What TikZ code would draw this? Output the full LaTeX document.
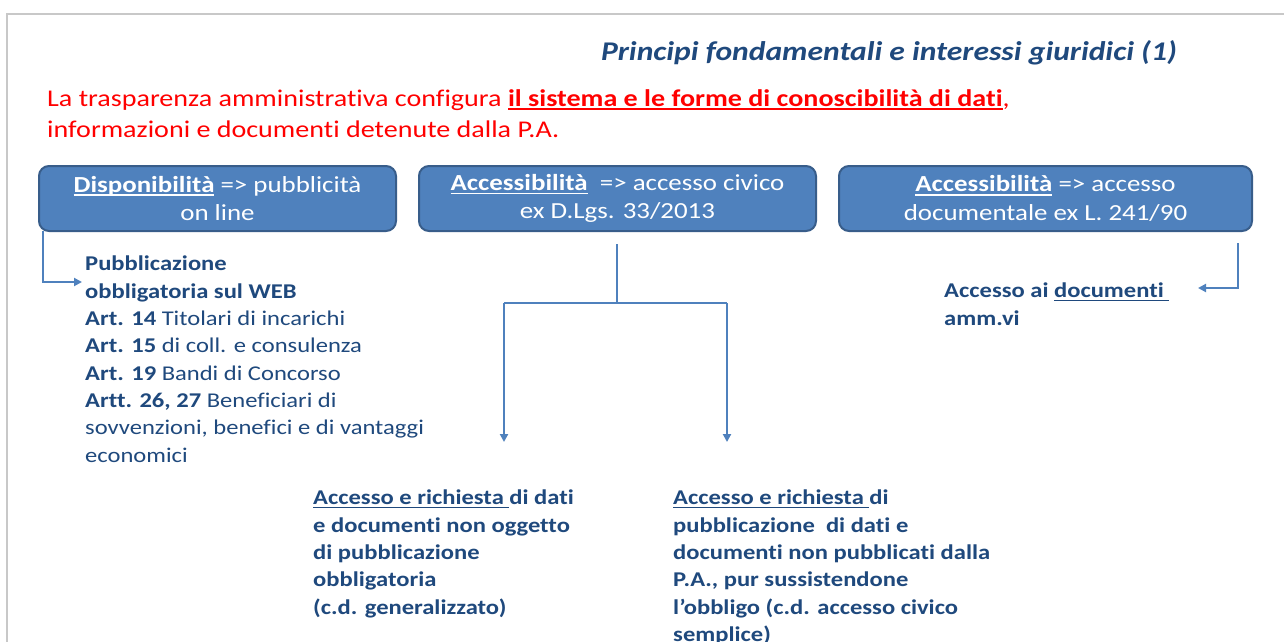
\documentclass[tikz,border=0pt]{standalone}
\usepackage{fontspec}
\setmainfont{Carlito}[FakeStretch=1.17, Ligatures=NoCommon]
\usetikzlibrary{arrows.meta}
\definecolor{boxblue}{HTML}{4F81BD}
\definecolor{boxedge}{HTML}{385D8A}
\definecolor{txtblue}{HTML}{1F497D}
\definecolor{redtxt}{HTML}{FF0000}
\definecolor{framegray}{HTML}{C8C8C8}
\newcommand\ulx[1]{\setbox0\hbox{#1}\rlap{\rule[-0.16em]{\wd0}{0.065em}}\box0\relax}
\tikzset{
  topbox/.style={draw=boxedge, line width=2pt, fill=boxblue, rounded corners=10pt},
  boxtext/.style={text=white, align=center, font=\fontsize{23}{28.5}\selectfont, inner sep=0pt},
  bodytext/.style={text=txtblue, align=left, anchor=north west, inner sep=0pt, font=\fontsize{21}{27.3}\selectfont},
  conn/.style={draw=boxblue, line width=2pt},
  arr/.style={conn, -{Triangle[length=8pt,width=8pt]}},
}
\begin{document}
\begin{tikzpicture}[x=1pt,y=-1pt]
\useasboundingbox (0,0) rectangle (1284,642);
\fill[white] (0,0) rectangle (1284,642);
\draw[framegray, line width=1.2pt] (7,642) -- (7,14) -- (1284,14);
% title
\node[anchor=base east, inner sep=0pt, text=txtblue, font=\fontsize{27}{31}\selectfont\itshape\bfseries] (title) at (1177,60) {Principi fondamentali e interessi giuridici (1)};
% red text
\node[anchor=north west, inner sep=0pt, text=redtxt, align=left, font=\fontsize{24}{31}\selectfont] (intro) at (47,89)
  {La trasparenza amministrativa configura \ulx{\bfseries il sistema e le forme di conoscibilità di dati},\\informazioni e documenti detenute dalla P.A.};
% boxes
\draw[topbox] (39,166) rectangle (396,231);
\node[boxtext] (b1) at (217.5,198.5) {\ulx{\bfseries Disponibilità} => pubblicità\\on line};
\coordinate (b1sw) at (42.5,231);
\draw[topbox] (419,166) rectangle (816,231);
\node[boxtext] (b2) at (617.5,198.5) {\ulx{\bfseries Accessibilità}\ \ => accesso civico\\ex D.Lgs. 33/2013};
\coordinate (b2s) at (617,244);
\draw[topbox] (839,166) rectangle (1252,231);
\node[boxtext] (b3) at (1045.5,198.5) {\ulx{\bfseries Accessibilità} => accesso\\documentale ex L. 241/90};
\coordinate (b3s) at (1238,243);
% left text
\node[bodytext] (left) at (85,256) {\bfseries Pubblicazione\\\bfseries obbligatoria sul WEB\\\textbf{Art. 14} Titolari di incarichi\\\textbf{Art. 15} di coll. e consulenza\\\textbf{Art. 19} Bandi di Concorso\\\textbf{Artt. 26, 27} Beneficiari di\\sovvenzioni, benefici e di vantaggi\\economici};
% right text
\node[bodytext, font=\fontsize{21}{27.3}\selectfont\bfseries] (right) at (944,283) {Accesso ai \ulx{documenti\ }\\amm.vi};
% bottom texts
\node[bodytext, font=\fontsize{21}{27.3}\selectfont\bfseries] (bl) at (313,490) {\ulx{Accesso e richiesta }di dati\\e documenti non oggetto\\di pubblicazione\\obbligatoria\\(c.d. generalizzato)};
\node[bodytext, font=\fontsize{21}{27.3}\selectfont\bfseries] (br) at (673,490) {\ulx{Accesso e richiesta }di\\pubblicazione\ \ di dati e\\documenti non pubblicati dalla\\P.A., pur sussistendone\\l’obbligo (c.d. accesso civico\\semplice)};
% connectors
\coordinate (lend) at (82,282);
\draw[arr] (b1sw) |- (lend);
\coordinate (mid) at (617,303);
\coordinate (ml) at (504,303);
\coordinate (mr) at (727,303);
\coordinate (mlend) at (504,442);
\coordinate (mrend) at (727,442);
\draw[conn] (b2s) -- (mid);
\draw[conn] (ml) -- (mr);
\draw[arr] (ml) -- (mlend);
\draw[arr] (mr) -- (mrend);
\coordinate (rend) at (1198,288);
\draw[arr] (b3s) |- (rend);
\end{tikzpicture}
\end{document}
